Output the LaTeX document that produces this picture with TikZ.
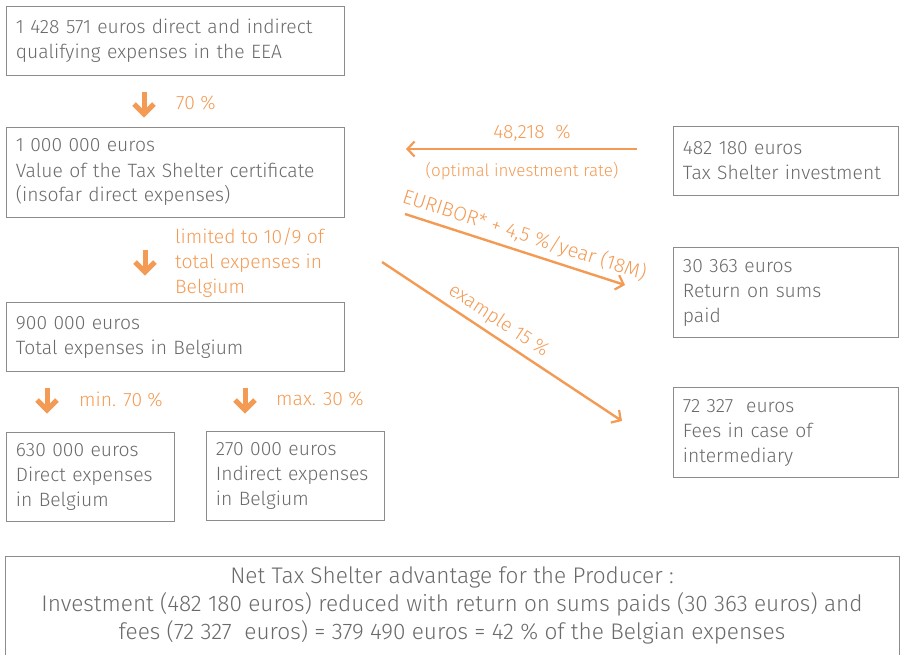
\documentclass[tikz,border=0pt]{standalone}
\usepackage{fontspec}
\setmainfont{Fira Sans Light}
\usetikzlibrary{arrows.meta}
\definecolor{boxgray}{HTML}{8C8C8C}
\definecolor{txtgray}{HTML}{6A6A6A}
\definecolor{orng}{HTML}{F39B55}
\tikzset{
  box/.style={draw=boxgray, line width=0.9pt, rectangle, anchor=north west, align=left,
    inner xsep=9.5pt, inner ysep=0pt, text=txtgray, font=\fontsize{19.3}{25}\selectfont},
  olabel/.style={text=orng, font=\fontsize{19.3}{25}\selectfont, inner sep=0pt},
  oarrow/.style={draw=orng, line width=2.4pt, -{Straight Barb[length=7pt,width=15pt,line width=2.2pt]}},
  downarrow/.style={draw=orng, line width=5pt}
}
\newcommand{\downarr}[2]{%
  \draw[downarrow] (#1,#2) -- (#1,#2+21);
  \draw[downarrow, line join=miter] (#1-10,#2+12) -- (#1,#2+22) -- (#1+10,#2+12);
}
\begin{document}
\begin{tikzpicture}[x=1pt,y=-1pt]
\useasboundingbox (0,0) rectangle (902,654);
% left column boxes
\node[box, text width=319pt, minimum height=69pt] (b1) at (6,6)
  {1 428 571 euros direct and indirect\\qualifying expenses in the EEA};
\node[box, text width=319pt, minimum height=90pt] (b2) at (6,127)
  {1 000 000 euros\\Value of the Tax Shelter certificate\\(insofar direct expenses)};
\node[box, text width=319pt, minimum height=69pt] (b3) at (6,302)
  {900 000 euros\\Total expenses in Belgium};
\node[box, text width=149pt, minimum height=89pt] (b4) at (6,432)
  {630 000 euros\\Direct expenses\\in Belgium};
\node[box, text width=159pt, minimum height=89pt] (b5) at (206,431)
  {270 000 euros\\Indirect expenses\\in Belgium};
% right column boxes
\node[box, text width=206pt, minimum height=69pt] (ra) at (673,126)
  {482 180 euros\\Tax Shelter investment};
\node[box, text width=206pt, minimum height=90pt] (rb) at (673,247)
  {30 363 euros\\Return on sums\\paid};
\node[box, text width=206pt, minimum height=90pt] (rc) at (673,387)
  {72 327\ \ euros\\Fees in case of\\intermediary};
% bottom box (open at the bottom)
\draw[draw=boxgray, line width=0.9pt] (5,660) -- (5,556) -- (899,556) -- (899,660);
\node[text=txtgray, align=center, inner sep=0pt, font=\fontsize{22.6}{28}\selectfont] (net) at (452,605)
  {Net Tax Shelter advantage for the Producer :\\
   Investment (482 180 euros) reduced with return on sums paids (30 363 euros) and\\
   fees (72 327\ \ euros) = 379 490 euros = 42 \% of the Belgian expenses};
% down arrows
\downarr{144}{92}
\node[olabel, anchor=west] (l1) at (176,103) {70 \%};
\downarr{145}{250}
\node[olabel, anchor=north west, align=left] (l2) at (175,228) {limited to 10/9 of\\total expenses in\\Belgium};
\downarr{47}{388}
\node[olabel, anchor=west] (l3) at (79,399) {min. 70 \%};
\downarr{245}{388}
\node[olabel, anchor=west] (l4) at (276,399) {max. 30 \%};
% horizontal arrow
\coordinate (h1) at (637,149);
\coordinate (h2) at (406,149);
\draw[oarrow] (h1) -- (h2);
\node[olabel] (l5) at (532,133) {48,218\ \ \%};
\node[olabel, font=\fontsize{17}{20}\selectfont] (l6) at (522,171) {(optimal investment rate)};
% diagonal arrows
\coordinate (e1) at (405,214);
\coordinate (e2) at (625,285);
\draw[oarrow] (e1) -- node[olabel, font=\fontsize{20}{25}\selectfont, sloped, above=5pt, pos=0.52] (l7) {EURIBOR* + 4,5 \%/year (18M)} (e2);
\coordinate (x1) at (382,262);
\coordinate (x2) at (622,421);
\draw[oarrow] (x1) -- node[olabel, sloped, above=5pt, pos=0.45] (l8) {example 15 \%} (x2);
\end{tikzpicture}
\end{document}
